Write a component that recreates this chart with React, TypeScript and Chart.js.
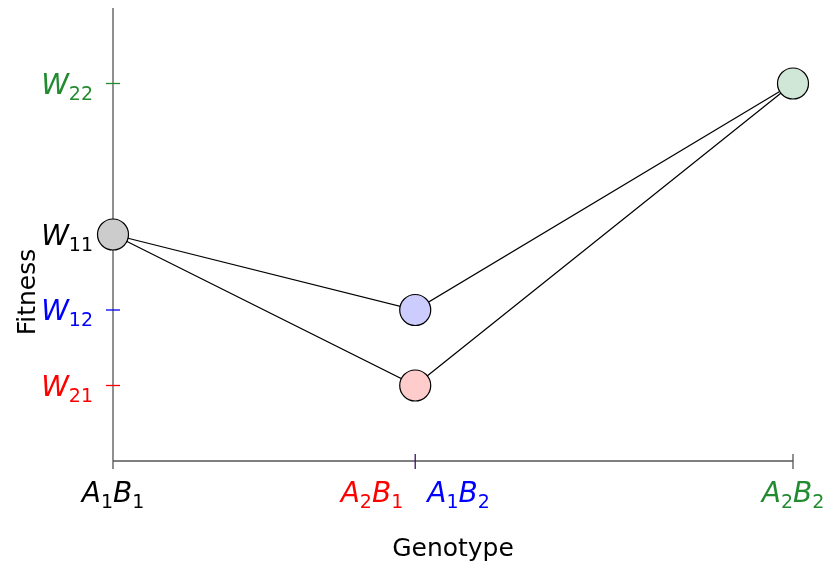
import React, { useEffect, useRef } from 'react';
import { Chart, registerables } from 'chart.js';

Chart.register(...registerables);

// Genotype positions on the x axis and their labels
const genotypeLabels = ['A_1B_1', 'A_2B_1', 'A_1B_2', 'A_2B_2'];
const genotypeX = [0, 4, 4, 9];
const genotypeColors = ['#000000', '#ff0000', '#0000ff', '#228b30'];

// Fitness values (same order as genotypes)
const fitnessLabels = ['W_11', 'W_21', 'W_12', 'W_22'];
const fitnessValues = [3, 1, 2, 5];
const fitnessColors = ['#000000', '#ff0000', '#0000ff', '#228b30'];
const pointFills = ['#cccccc', '#ffcccc', '#ccccff', '#d0e6d6'];

// Two paths: via A2B1 and via A1B2
const pathViaA2B1 = [0, 1, 3];
const pathViaA1B2 = [0, 2, 3];

const xMin = 0, xMax = 9, yMin = 0, yMax = 6;
const FONT = '"DejaVu Sans", sans-serif';

function parseRich(s: string) {
  const parts: { text: string; sub: boolean }[] = [];
  const re = /([^_]+?)(?=_|$)|_(\d+)/g;
  let m: RegExpExecArray | null;
  while ((m = re.exec(s)) !== null) {
    if (m[2] !== undefined) parts.push({ text: m[2], sub: true });
    else if (m[1]) parts.push({ text: m[1], sub: false });
  }
  return parts;
}

const MAIN = `italic 28px ${FONT}`;
const SUB = `19px ${FONT}`;

function richWidth(ctx: CanvasRenderingContext2D, s: string) {
  let w = 0;
  for (const p of parseRich(s)) {
    ctx.font = p.sub ? SUB : MAIN;
    w += ctx.measureText(p.text).width;
  }
  return w;
}

function drawRich(ctx: CanvasRenderingContext2D, s: string, x: number, baseline: number, align: 'left' | 'right' | 'center', color: string) {
  const w = richWidth(ctx, s);
  let cx = align === 'left' ? x : align === 'right' ? x - w : x - w / 2;
  ctx.save();
  ctx.fillStyle = color;
  ctx.textAlign = 'left';
  ctx.textBaseline = 'alphabetic';
  for (const p of parseRich(s)) {
    ctx.font = p.sub ? SUB : MAIN;
    ctx.fillText(p.text, cx, baseline + (p.sub ? 6 : 0));
    cx += ctx.measureText(p.text).width;
  }
  ctx.restore();
}

const axesPlugin = {
  id: 'customAxes',
  beforeDatasetsDraw(chart: any) {
    const { ctx, chartArea, scales } = chart;
    const xs = scales.x, ys = scales.y;
    const x0 = xs.getPixelForValue(xMin);
    const y0 = ys.getPixelForValue(yMin);
    ctx.save();
    ctx.strokeStyle = '#555555';
    ctx.lineWidth = 1.3;
    ctx.beginPath();
    ctx.moveTo(x0, chartArea.top);
    ctx.lineTo(x0, y0 + 8);
    ctx.moveTo(x0, y0);
    ctx.lineTo(xs.getPixelForValue(xMax), y0);
    ctx.stroke();
    // y ticks
    fitnessValues.forEach((v, i) => {
      const py = ys.getPixelForValue(v);
      ctx.strokeStyle = fitnessColors[i];
      ctx.beginPath();
      ctx.moveTo(x0 - 7, py);
      ctx.lineTo(x0 + 7, py);
      ctx.stroke();
    });
    // x ticks
    const seen = new Set<number>();
    genotypeX.forEach((v) => {
      if (v === xMin || seen.has(v)) return;
      seen.add(v);
      const px = xs.getPixelForValue(v);
      const shared = genotypeX.filter((g) => g === v).length > 1;
      ctx.strokeStyle = shared ? '#40106a' : '#555555';
      ctx.beginPath();
      ctx.moveTo(px, y0 - 7);
      ctx.lineTo(px, y0 + 8);
      ctx.stroke();
    });
    ctx.restore();
  },
  afterDraw(chart: any) {
    const { ctx, scales, chartArea } = chart;
    const xs = scales.x, ys = scales.y;
    const x0 = xs.getPixelForValue(xMin);
    const y0 = ys.getPixelForValue(yMin);
    // y tick labels
    fitnessValues.forEach((v, i) => {
      const py = ys.getPixelForValue(v);
      drawRich(ctx, fitnessLabels[i], x0 - 20, py + 10, 'right', fitnessColors[i]);
    });
    // x tick labels
    genotypeX.forEach((v, i) => {
      const px = xs.getPixelForValue(v);
      const same = genotypeX.map((g, j) => (g === v ? j : -1)).filter((j) => j >= 0);
      let align: 'left' | 'right' | 'center' = 'center';
      let ax = px;
      if (same.length > 1) {
        if (same[0] === i) { align = 'right'; ax = px - 12; }
        else { align = 'left'; ax = px + 12; }
      }
      drawRich(ctx, genotypeLabels[i], ax, y0 + 41, align, genotypeColors[i]);
    });
    // axis titles
    ctx.save();
    ctx.fillStyle = '#000000';
    ctx.font = `25px ${FONT}`;
    ctx.textAlign = 'center';
    ctx.textBaseline = 'alphabetic';
    ctx.fillText('Genotype', (chartArea.left + chartArea.right) / 2, 556);
    ctx.translate(35, 292);
    ctx.rotate(-Math.PI / 2);
    ctx.fillText('Fitness', 0, 0);
    ctx.restore();
  },
};

export default function App() {
  const ref = useRef<HTMLCanvasElement>(null);
  useEffect(() => {
    if (!ref.current) return;
    const pt = (i: number) => ({ x: genotypeX[i], y: fitnessValues[i] });
    const chart = new Chart(ref.current, {
      type: 'scatter',
      data: {
        datasets: [
          {
            data: genotypeX.map((_, i) => pt(i)),
            pointRadius: 15.5,
            pointBackgroundColor: pointFills,
            pointBorderColor: '#000000',
            pointBorderWidth: 1.2,
            showLine: false,
            order: 0,
            clip: false,
          } as any,
          {
            data: pathViaA2B1.map(pt),
            showLine: true,
            borderColor: '#000000',
            borderWidth: 1.2,
            pointRadius: 0,
            order: 1,
            clip: false,
          } as any,
          {
            data: pathViaA1B2.map(pt),
            showLine: true,
            borderColor: '#000000',
            borderWidth: 1.2,
            pointRadius: 0,
            order: 1,
            clip: false,
          } as any,
        ],
      },
      options: {
        responsive: false,
        maintainAspectRatio: false,
        animation: false,
        layout: { autoPadding: false, padding: { left: 113, right: 34, top: 8, bottom: 101 } },
        plugins: { legend: { display: false }, tooltip: { enabled: false } },
        scales: {
          x: { type: 'linear', min: xMin, max: xMax, display: false },
          y: { type: 'linear', min: yMin, max: yMax, display: false },
        },
      },
      plugins: [axesPlugin],
    });
    return () => chart.destroy();
  }, []);
  return (
    <div style={{ position: 'fixed', left: 0, top: 0, width: 827, height: 562, background: '#ffffff' }}>
      <canvas ref={ref} width={827} height={562} />
    </div>
  );
}
